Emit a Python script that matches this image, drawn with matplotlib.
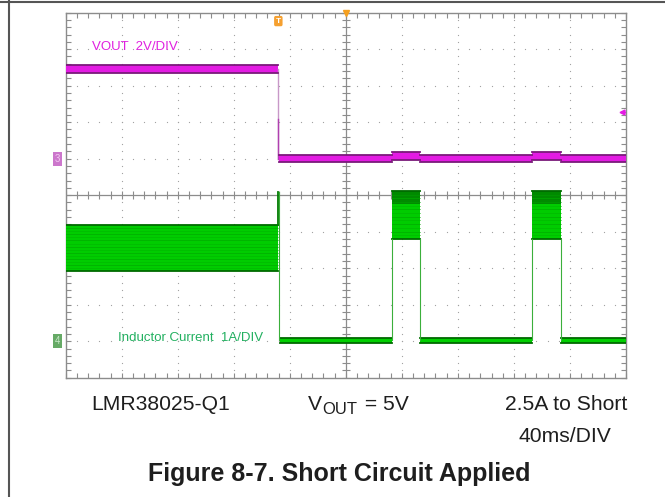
import numpy as np
import matplotlib
matplotlib.use("Agg")
import matplotlib.pyplot as plt
from matplotlib.lines import Line2D
import matplotlib.transforms as mtransforms

plt.rcParams['font.family'] = ['Liberation Sans', 'DejaVu Sans']

# ---------------- data (time in ms, 40 ms/div; volts; amps) ----------------
t_short = 151.8                       # short applied
vout_before = 4.92                    # V
vout_after = 0.0                      # V
vout_burst = 0.15                     # V during hiccup restart
burst_start = [232.7, 333.1]          # ms
burst_end = [252.9, 353.4]            # ms
il_before_low, il_before_high = 1.92, 3.18   # A ripple band before short
il_spike = 4.10                       # A peak at short
il_off = 0.02                         # A during hiccup off time
il_burst_low, il_burst_high = 2.80, 4.12     # A during hiccup bursts
vout_trig_level = 2.58                # V, trigger marker level

V_PER_DIV, A_PER_DIV = 2.0, 1.0
V_GND_DIV, I_GND_DIV = 6.0, 1.0
T_END = 400.0

def vdiv(v):
    return V_GND_DIV + np.asarray(v) / V_PER_DIV

def idiv(i):
    return I_GND_DIV + np.asarray(i) / A_PER_DIV

# ---------------- figure ----------------
W, H = 665, 497
fig = plt.figure(figsize=(W / 100, H / 100), dpi=100)
fig.patch.set_facecolor('white')
x0, y0, x1, y1 = 65.7, 12.7, 626.0, 377.7
ax = fig.add_axes([x0 / W, 1 - y1 / H, (x1 - x0) / W, (y1 - y0) / H])
ax.set_xlim(0, T_END)
ax.set_ylim(0, 10)

gridc = '#A0A0A0'
for s in ax.spines.values():
    s.set_color('#8C8C8C')
    s.set_linewidth(1.0)
ax.set_xticks(np.arange(0, T_END + 1, 40))
ax.set_yticks(np.arange(0, 11, 1))
ax.set_xticks(np.arange(0, T_END + 1, 8), minor=True)
ax.set_yticks(np.arange(0, 10.01, 0.2), minor=True)
ax.tick_params(which='both', direction='in', length=3.5, width=0.8, color='#8C8C8C',
               top=True, right=True, labelleft=False, labelbottom=False)

# dotted grid
xs_dots = np.arange(0, T_END + 0.1, 8)
ys_dots = np.arange(0, 10.01, 0.2)
for gx in np.arange(40, T_END, 40):
    if gx == 200:
        continue
    ax.scatter(np.full_like(ys_dots, gx), ys_dots, s=0.8, color=gridc, lw=0, zorder=1)
for gy in range(1, 10):
    if gy == 5:
        continue
    ax.scatter(xs_dots, np.full_like(xs_dots, gy), s=0.8, color=gridc, lw=0, zorder=1)
# centre cross with ticks
ax.axhline(5, color='#8C8C8C', lw=0.9, zorder=1)
ax.axvline(200, color='#8C8C8C', lw=0.9, zorder=1)
ax.plot(xs_dots, np.full_like(xs_dots, 5), ls='none', marker='|', ms=6, mew=0.8, color='#8C8C8C', zorder=1)
ax.plot(np.full_like(ys_dots, 200), ys_dots, ls='none', marker='_', ms=6, mew=0.8, color='#8C8C8C', zorder=1)

# ---------------- helpers ----------------
def band(t0, t1, lo, hi, face, edge, stripes=None, dark_frac=0.0, dark='#007A00', z=3):
    ax.fill_between([t0, t1], lo, hi, color=face, lw=0, zorder=z)
    if dark_frac > 0:
        ax.fill_between([t0, t1], hi - (hi - lo) * dark_frac, hi, color=dark, lw=0, zorder=z)
    if stripes:
        for k, yy in enumerate(np.linspace(lo, hi, stripes)[1:-1]):
            ax.plot([t0, t1], [yy, yy], color=('#00A000' if k % 2 else '#00B400'),
                    lw=0.6, alpha=0.6, zorder=z + 0.1)
    ax.plot([t0, t1], [hi, hi], color=edge, lw=1.3, zorder=z + 0.2)
    ax.plot([t0, t1], [lo, lo], color=edge, lw=1.3, zorder=z + 0.2)

mag, mag_edge = '#E31BE3', '#7A1A7A'
grn, grn_edge = '#00CC00', '#006A00'

# ---------------- inductor current ----------------
gl = '#3BAF3B'
band(0, t_short, idiv(il_before_low), idiv(il_before_high), grn, grn_edge, stripes=16)
ax.plot([t_short, t_short], [idiv(il_before_high), idiv(il_spike)], color='#007A00', lw=1.3, zorder=4)
ax.plot([t_short + 0.6, t_short + 0.6], [idiv(il_spike), idiv(il_off)], color=gl, lw=0.8, zorder=4)
segs_start = [t_short + 1.0] + list(burst_end)
segs_end = list(burst_start) + [T_END]
for a, b in zip(segs_start, segs_end):
    band(a, b, idiv(il_off) - 0.07, idiv(il_off) + 0.07, '#00D000', grn_edge, z=3)
for a, b in zip(burst_start, burst_end):
    band(a, b, idiv(il_burst_low), idiv(il_burst_high), grn, grn_edge, stripes=14,
         dark_frac=0.28, dark='#008A00')
    ax.plot([a, a], [idiv(il_off), idiv(il_burst_low)], color=gl, lw=0.8, zorder=4)
    ax.plot([b, b], [idiv(il_off), idiv(il_burst_low)], color=gl, lw=0.8, zorder=4)

# ---------------- VOUT ----------------
hw = 0.1
band(0, t_short, vdiv(vout_before) - hw, vdiv(vout_before) + hw, mag, mag_edge, z=5)
ax.plot([t_short, t_short], [vdiv(vout_before), vdiv(vout_after)], color='#C898C8', lw=1.0, zorder=5)
ax.plot([t_short, t_short], [vdiv(vout_after) + 1.1, vdiv(vout_after)], color='#B040B0', lw=1.0, zorder=5)
v_starts = [t_short + 0.8] + list(burst_end)
v_ends = list(burst_start) + [T_END]
for a, b in zip(v_starts, v_ends):
    band(a, b, vdiv(vout_after) - hw, vdiv(vout_after) + hw, mag, mag_edge, z=5)
for a, b in zip(burst_start, burst_end):
    band(a, b, vdiv(vout_burst) - hw, vdiv(vout_burst) + hw, mag, mag_edge, z=5)

# ---------------- scope markers ----------------
blend = mtransforms.blended_transform_factory(ax.transAxes, ax.transData)
ax.text(-0.015, V_GND_DIV, '3', transform=blend, ha='center', va='center', fontsize=7,
        color='#F2C8F2', clip_on=False,
        bbox=dict(boxstyle='square,pad=0.2', fc='#CC77CC', ec='none'))
ax.text(-0.015, I_GND_DIV, '4', transform=blend, ha='center', va='center', fontsize=7,
        color='#C8E8C8', clip_on=False,
        bbox=dict(boxstyle='square,pad=0.2', fc='#66AA66', ec='none'))
ax.text(t_short, 9.77, 'T', ha='center', va='center', fontsize=6, color='white',
        fontweight='bold', clip_on=False,
        bbox=dict(boxstyle='round,pad=0.2', fc='#F5A030', ec='none'))
ax.plot([200], [10], marker='v', ms=5, color='#F5A020', clip_on=False, zorder=6)
ax.plot([T_END - 3], [vdiv(vout_trig_level)], marker='<', ms=3.5, color=mag, clip_on=False, zorder=6)
ax.plot([T_END - 3, T_END], [vdiv(vout_trig_level)] * 2, color=mag, lw=1, zorder=6)

# channel labels
ax.text(18.5, 9.06, 'VOUT  2V/DIV', color='#E020E0', fontsize=9.5, ha='left', va='center', zorder=7)
ax.text(37.0, 1.1, 'Inductor Current  1A/DIV', color='#22B060', fontsize=9.5,
        ha='left', va='center', zorder=7)

# ---------------- outer frame & captions ----------------
fig.add_artist(Line2D([0, 1], [1 - 1.5 / H, 1 - 1.5 / H], color='#555555', lw=1.5))
fig.add_artist(Line2D([8.5 / W, 8.5 / W], [0, 1], color='#555555', lw=1.5))

txtc = '#1E1E1E'
fs = 15.2
ycap = 1 - 404 / H
fig.text(91 / W, ycap, 'LMR38025-Q1', fontsize=fs, ha='left', va='center', color=txtc)

# V_OUT = 5V built from pieces
renderer = fig.canvas.get_renderer()
tv = fig.text(308 / W, ycap, 'V', fontsize=fs, ha='left', va='center', color=txtc)
bb = tv.get_window_extent(renderer)
to = fig.text((bb.x1 + 0.5) / W, ycap - 5 / H, 'OUT', fontsize=12, ha='left', va='center', color=txtc)
bb2 = to.get_window_extent(renderer)
fig.text((bb2.x1 + 1) / W, ycap, ' = 5V', fontsize=fs, ha='left', va='center', color=txtc)

fig.text(627 / W, ycap, '2.5A to Short', fontsize=fs, ha='right', va='center', color=txtc)
fig.text(565 / W, 1 - 437 / H, '40ms/DIV', fontsize=fs, ha='center', va='center', color=txtc)
fig.text(339 / W, 1 - 474 / H, 'Figure 8-7. Short Circuit Applied', fontsize=18, fontweight='bold',
         ha='center', va='center', color=txtc)

fig.savefig('out.png', dpi=100, facecolor='white')
